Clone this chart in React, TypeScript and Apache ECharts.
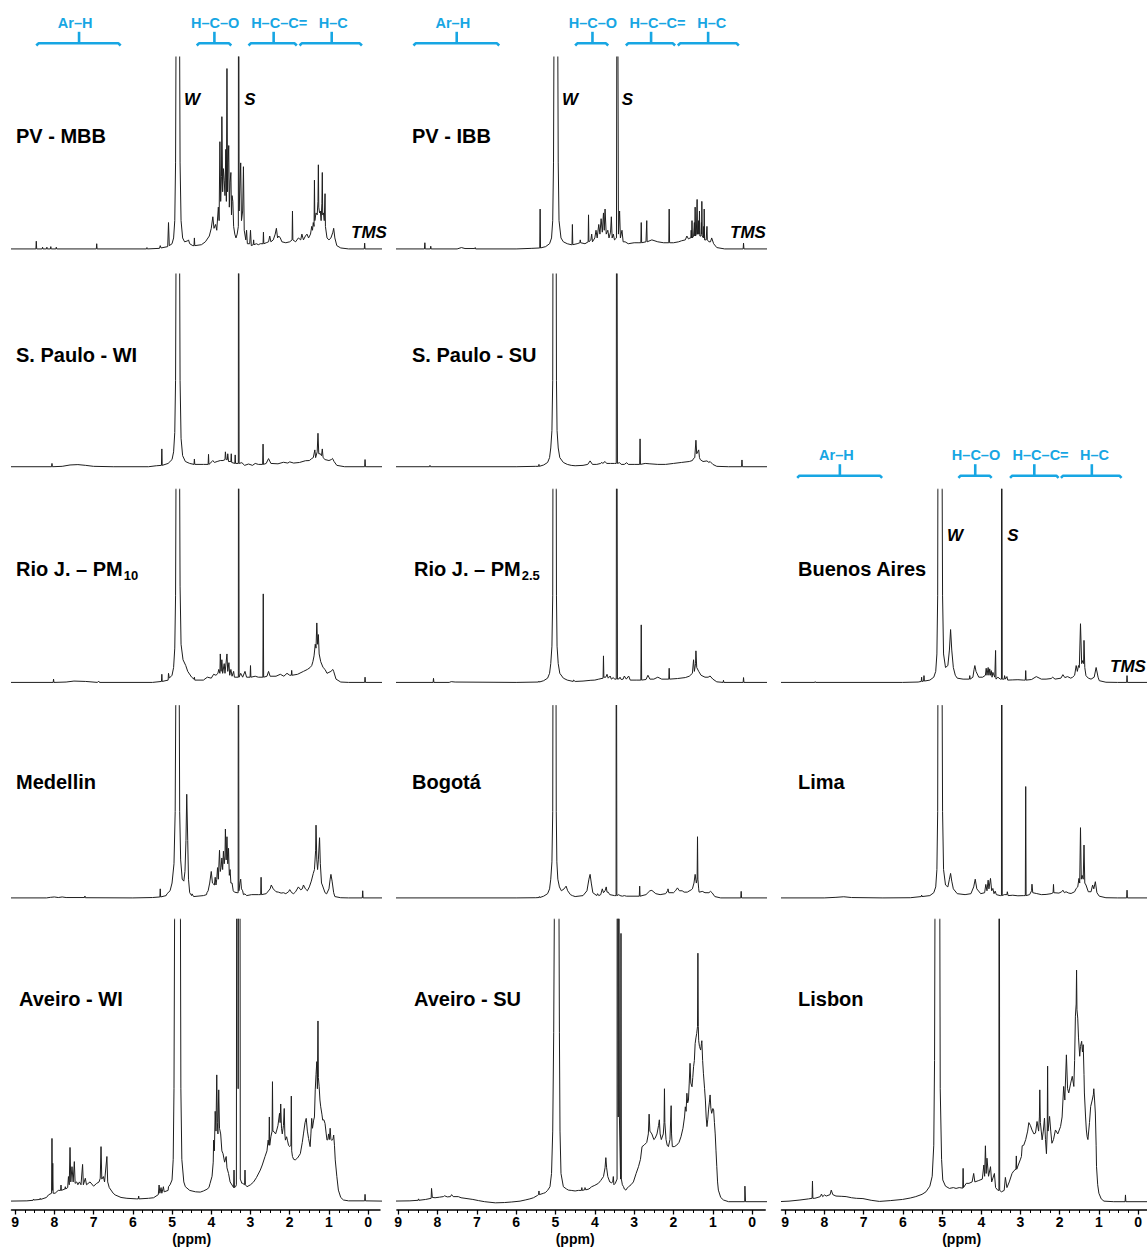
import React, { useEffect, useRef } from "react";
import * as echarts from "echarts";

// ---------- spectra: flat lists [ppm, intensity (% of panel height), ...] ----------
const pvMbb = [9.2,0.3, 8.47,0.3, 8.46,4.3, 8.45,0.3, 8.31,0.3, 8.3,1.2, 8.29,0.3, 8.2,0.3, 8.19,1.2, 8.18,0.3, 8.1,0.3, 8.09,1.5, 8.08,0.3, 7.96,0.3, 7.95,1.2, 7.94,0.3, 6.93,0.3, 6.92,3, 6.91,0.3, 5.65,0.3, 5.64,1, 5.63,0.3, 5.32,0.6, 5.3,2, 5.28,0.8, 5.11,1.5, 5.09,14, 5.07,2, 5.0,3, 4.96,6, 4.93,15, 4.91,45, 4.9,100, 4.895,250, 4.81,250, 4.805,100, 4.795,45, 4.77,15, 4.73,6, 4.68,4, 4.6,4.5, 4.58,5, 4.55,3, 4.47,2, 4.44,2, 4.43,6, 4.42,2, 4.25,2.5, 4.15,4, 4.05,7, 4.0,11, 3.96,17, 3.93,11, 3.89,13, 3.86,10, 3.82,22, 3.8,15, 3.78,56, 3.76,25, 3.74,38, 3.73,69, 3.71,30, 3.69,42, 3.67,36, 3.65,28, 3.63,52, 3.615,25, 3.6,94, 3.585,30, 3.57,45, 3.555,54, 3.54,22, 3.52,35, 3.5,40, 3.485,18, 3.47,28, 3.45,25, 3.43,12, 3.4,8, 3.37,6, 3.34,8, 3.31,12, 3.305,250, 3.295,250, 3.29,20, 3.25,45, 3.23,15, 3.2,20, 3.18,43, 3.16,10, 3.12,5, 3.1,10, 3.08,3, 3.02,3, 3.0,10, 2.98,2, 2.93,2.5, 2.92,5, 2.91,2.5, 2.85,3, 2.8,2.5, 2.75,3, 2.68,3, 2.67,9, 2.66,3, 2.6,3.5, 2.54,4, 2.51,7, 2.48,4, 2.42,5, 2.37,8, 2.34,11, 2.31,6, 2.28,7, 2.24,6, 2.2,4, 2.1,3.5, 2.0,4, 1.94,5, 1.93,20, 1.92,5, 1.85,4, 1.78,6, 1.72,5, 1.69,8, 1.65,5, 1.6,7, 1.56,8, 1.52,6, 1.47,8, 1.44,12, 1.42,10, 1.4,14, 1.38,12, 1.37,36, 1.36,15, 1.33,19, 1.3,18, 1.28,25, 1.27,44, 1.26,22, 1.24,19, 1.22,20, 1.2,15, 1.18,24, 1.17,40, 1.16,18, 1.14,19, 1.12,15, 1.1,29, 1.09,12, 1.05,6, 1.0,5, 0.95,6, 0.9,9, 0.88,11, 0.85,6, 0.8,2, 0.7,0.8, 0.5,0.3, 0.1,0.3, 0.09,3.3, 0.08,0.3, -0.4,0.3];

const pvIbb = [9.2,0.3, 8.33,0.3, 8.32,3.5, 8.31,0.3, 8.18,0.3, 8.17,1.7, 8.16,0.3, 7.5,0.3, 7.39,1, 7.3,0.5, 7.05,0.5, 7.04,1, 7.03,0.3, 6.0,0.3, 5.6,0.6, 5.4,0.8, 5.39,21, 5.38,0.8, 5.25,1.5, 5.15,3, 5.1,6, 5.07,15, 5.05,45, 5.04,100, 5.035,250, 4.945,250, 4.94,100, 4.93,45, 4.91,15, 4.86,6, 4.8,4, 4.7,3, 4.6,2.5, 4.58,2.5, 4.57,13, 4.56,2.5, 4.45,3, 4.38,3.5, 4.37,5, 4.36,3.5, 4.25,3, 4.17,4, 4.16,18, 4.15,4, 4.1,5, 4.08,8, 4.06,4, 4.0,6, 3.97,10, 3.94,6, 3.9,13, 3.87,8, 3.84,16, 3.81,9, 3.78,19, 3.76,10, 3.74,21, 3.71,8, 3.67,10, 3.64,6, 3.6,9, 3.58,17, 3.56,6, 3.53,8, 3.5,5, 3.45,6, 3.43,250, 3.415,250, 3.4,8, 3.37,20, 3.35,6, 3.31,10, 3.28,4, 3.23,4, 3.15,3, 3.0,3.5, 2.9,3.5, 2.83,3.5, 2.82,14, 2.81,3.5, 2.7,4, 2.68,15, 2.67,4, 2.55,5, 2.4,4, 2.25,3.5, 2.12,3.5, 2.11,21, 2.1,3.5, 2.0,3.5, 1.87,4, 1.8,4.5, 1.7,5, 1.66,7, 1.62,5.5, 1.58,6, 1.56,6, 1.55,10, 1.54,6, 1.53,15, 1.52,6, 1.49,7, 1.47,14, 1.46,7, 1.45,22, 1.44,7, 1.42,8, 1.41,8, 1.4,26, 1.39,8, 1.37,8, 1.36,15, 1.35,8, 1.34,20, 1.33,7, 1.3,7, 1.29,14, 1.285,8, 1.28,25, 1.27,7, 1.24,6, 1.23,12, 1.225,6, 1.22,21, 1.21,5, 1.17,5, 1.15,12, 1.14,5, 1.1,4, 1.06,4, 1.03,6, 0.98,3, 0.9,1, 0.7,0.3, 0.23,0.3, 0.22,3.3, 0.21,0.3, -0.4,0.3];

const sPauloWi = [9.2,0.3, 8.07,0.3, 8.06,2, 8.05,0.3, 7.8,0.5, 7.6,1.2, 7.4,1.4, 7.2,1, 7.0,0.5, 6.5,0.3, 5.6,0.3, 5.4,0.8, 5.27,1, 5.26,9.5, 5.25,1, 5.1,2, 5.0,4, 4.96,8, 4.93,18, 4.91,45, 4.9,100, 4.895,250, 4.81,250, 4.805,100, 4.795,45, 4.77,15, 4.73,6, 4.66,3, 4.55,2, 4.44,1.5, 4.43,4.3, 4.42,1.5, 4.2,1.5, 4.08,1.5, 4.07,6.7, 4.06,1.5, 3.98,3, 3.96,3.5, 3.92,2.5, 3.85,3, 3.77,3.5, 3.7,3.5, 3.65,4, 3.64,8, 3.62,4, 3.59,4, 3.58,7, 3.56,3, 3.5,3, 3.49,7, 3.48,2.5, 3.4,2, 3.39,6.4, 3.38,2, 3.31,2, 3.305,250, 3.295,250, 3.29,2, 3.22,2.4, 3.15,1, 3.05,1.7, 2.95,1, 2.88,2, 2.8,1.5, 2.69,1.5, 2.68,12, 2.67,1.5, 2.6,2, 2.54,4.5, 2.48,2, 2.3,1.8, 2.16,2.6, 2.05,2.2, 2.0,2.8, 1.9,2.2, 1.75,2.5, 1.6,3.4, 1.5,3.5, 1.44,4.5, 1.4,5, 1.36,9, 1.34,5, 1.3,8, 1.28,17.6, 1.26,7, 1.22,7, 1.19,6, 1.17,9.5, 1.15,5, 1.1,4, 1.0,3.5, 0.94,4, 0.91,4.6, 0.87,3, 0.8,1, 0.6,0.3, 0.09,0.3, 0.08,4, 0.07,0.3, -0.4,0.3];

const sPauloSu = [9.2,0.3, 8.2,0.3, 8.19,1, 8.18,0.3, 6.0,0.3, 5.5,0.5, 5.43,0.5, 5.42,1.5, 5.41,0.5, 5.3,1.2, 5.2,2.5, 5.15,5, 5.12,10, 5.09,19, 5.07,45, 5.065,100, 5.06,250, 4.985,250, 4.98,100, 4.975,45, 4.96,19, 4.93,10, 4.89,5, 4.8,2.5, 4.7,1.5, 4.6,1, 4.5,0.8, 4.3,1, 4.18,1.5, 4.12,3.3, 4.06,1.5, 3.95,1.5, 3.85,2, 3.82,2.6, 3.8,2, 3.74,3, 3.7,2, 3.6,2, 3.5,2, 3.455,2, 3.445,250, 3.435,250, 3.425,2, 3.37,2.4, 3.33,1.5, 3.25,1.5, 3.19,2.4, 3.15,1.5, 3.0,1.5, 2.86,1.5, 2.85,14.7, 2.84,1.5, 2.72,2, 2.6,1.8, 2.4,1.5, 2.2,1.5, 2.0,2, 1.8,2.5, 1.6,3, 1.52,3.5, 1.49,4.6, 1.46,5, 1.43,14, 1.41,7, 1.36,9, 1.34,5, 1.32,4, 1.25,3, 1.15,3.3, 1.1,2.5, 1.07,3, 1.0,1.5, 0.9,0.5, 0.6,0.3, 0.27,0.3, 0.26,3.8, 0.25,0.3, -0.4,0.3];

const rioPm10 = [9.2,0.3, 8.03,0.3, 8.02,2, 8.01,0.3, 7.7,0.5, 7.5,1, 7.2,0.8, 6.9,0.3, 6.87,1, 6.85,0.3, 5.5,0.3, 5.27,0.8, 5.26,4.5, 5.25,0.8, 5.1,1.5, 5.09,5, 5.07,2.5, 5.0,4, 4.96,8, 4.93,18, 4.91,45, 4.9,100, 4.895,250, 4.81,250, 4.805,100, 4.795,50, 4.77,20, 4.72,12, 4.65,9, 4.6,6, 4.5,3, 4.44,2, 4.43,3, 4.42,1.5, 4.2,1.5, 4.1,3, 4.0,2.5, 3.94,4.5, 3.88,4, 3.83,5, 3.81,7, 3.78,5, 3.77,15, 3.75,6, 3.73,12, 3.71,5, 3.67,10, 3.65,5, 3.6,15, 3.58,6, 3.55,10.5, 3.53,4, 3.5,7, 3.47,3.5, 3.43,6, 3.41,3, 3.31,3, 3.305,250, 3.295,250, 3.29,3, 3.25,5, 3.2,3, 3.14,6, 3.1,3, 3.01,3, 3.0,9, 2.99,3, 2.88,3.5, 2.8,3, 2.685,3, 2.675,46, 2.665,3, 2.58,3.5, 2.54,6, 2.5,3.5, 2.35,3.5, 2.24,4.5, 2.15,3.5, 2.07,5, 2.0,4, 1.96,4, 1.95,6.5, 1.94,4, 1.8,4.5, 1.65,6, 1.55,7, 1.48,8, 1.44,9, 1.41,11, 1.38,14, 1.35,20, 1.33,18, 1.31,31, 1.29,20, 1.27,25, 1.25,15, 1.21,11, 1.15,8, 1.1,7, 1.05,5, 1.0,5.5, 0.95,6, 0.9,7, 0.88,6, 0.82,2, 0.7,0.5, 0.5,0.3, 0.09,0.3, 0.08,3, 0.07,0.3, -0.4,0.3];

const rioPm25 = [9.2,0.3, 8.11,0.3, 8.1,2.4, 8.09,0.3, 7.7,0.3, 7.65,0.7, 7.55,0.5, 6.0,0.3, 5.43,0.5, 5.42,1, 5.41,0.5, 5.3,1.2, 5.2,2.5, 5.15,5, 5.12,10, 5.09,19, 5.07,45, 5.065,100, 5.06,250, 4.985,250, 4.98,100, 4.975,45, 4.96,19, 4.93,10, 4.89,5, 4.8,2.5, 4.7,1.5, 4.55,0.8, 4.54,1.5, 4.5,0.8, 4.3,1, 4.1,1.4, 4.0,1.5, 3.9,2, 3.79,2.5, 3.78,14, 3.77,3, 3.72,3, 3.69,4.5, 3.66,2.5, 3.61,3.6, 3.58,2, 3.53,2.8, 3.5,2, 3.455,2, 3.445,250, 3.435,250, 3.425,2, 3.38,2.2, 3.36,3, 3.33,1.8, 3.28,2, 3.25,3.6, 3.2,2, 3.14,3.6, 3.1,1.5, 2.95,1.5, 2.83,1.5, 2.82,30, 2.81,1.5, 2.7,1.8, 2.65,4, 2.6,2, 2.5,2, 2.4,3, 2.3,2, 2.12,2, 2.11,7.6, 2.1,2, 1.9,2.3, 1.7,2.8, 1.6,3.5, 1.52,5, 1.49,12, 1.47,6, 1.44,10, 1.43,16.6, 1.41,8, 1.36,6, 1.3,4, 1.2,3, 1.12,3, 1.07,3.6, 1.0,2, 0.9,0.6, 0.74,0.3, 0.73,1.4, 0.72,0.3, 0.23,0.3, 0.22,2.8, 0.21,0.3, -0.4,0.3];

const buenosAires = [9.2,0.3, 8.24,0.3, 8.23,0.7, 8.22,0.3, 6.0,0.3, 5.6,0.5, 5.52,0.8, 5.51,3, 5.5,0.8, 5.46,1, 5.45,3.8, 5.44,1, 5.3,1.5, 5.2,3, 5.15,6, 5.12,15, 5.1,45, 5.095,100, 5.09,250, 4.99,250, 4.985,100, 4.975,45, 4.95,15, 4.9,8, 4.84,9, 4.8,17, 4.77,27.6, 4.74,17, 4.7,8, 4.65,4, 4.6,2.5, 4.45,2, 4.29,2, 4.28,3.8, 4.27,2, 4.2,3, 4.17,7, 4.15,9, 4.12,6, 4.05,3, 3.95,3, 3.88,4, 3.86,7.6, 3.84,4, 3.81,8, 3.79,4, 3.77,7.3, 3.75,4, 3.73,6.4, 3.71,3, 3.69,5.5, 3.64,3, 3.62,16.8, 3.61,2, 3.56,3, 3.5,2, 3.47,2, 3.465,250, 3.455,250, 3.45,2, 3.4,2, 3.39,3.8, 3.37,2, 3.33,3.3, 3.31,1.5, 3.18,1.6, 3.05,1.7, 2.9,1.5, 2.86,1.5, 2.85,6.4, 2.84,1.5, 2.7,1.8, 2.58,3.3, 2.45,2, 2.33,2, 2.2,2.3, 2.16,3, 2.1,2, 1.95,2.5, 1.9,4.3, 1.85,2.8, 1.78,3.3, 1.7,2.5, 1.65,3, 1.6,4, 1.56,9, 1.53,6, 1.5,9, 1.48,8, 1.45,30.6, 1.42,10, 1.39,11.6, 1.37,10, 1.36,22, 1.34,8, 1.31,3.8, 1.25,2.5, 1.18,2, 1.1,3, 1.05,8, 1.0,3, 0.97,1.2, 0.8,0.4, 0.5,0.3, 0.27,0.3, 0.26,3.8, 0.25,0.3, -0.4,0.3];

const medellin = [9.2,0.3, 8.2,0.3, 8.1,0.6, 8.0,0.8, 7.9,0.5, 7.8,0.8, 7.7,0.5, 7.23,0.5, 7.22,1.3, 7.21,0.4, 6.0,0.3, 5.5,0.5, 5.31,0.8, 5.3,5, 5.29,0.8, 5.15,1.5, 5.13,2.4, 5.05,4, 5.0,8, 4.95,18, 4.92,45, 4.905,100, 4.9,250, 4.82,250, 4.815,100, 4.805,45, 4.78,20, 4.74,10, 4.7,9, 4.67,14, 4.645,30, 4.625,54, 4.6,30, 4.58,10, 4.55,3, 4.5,1.5, 4.49,2.4, 4.45,1, 4.2,1.5, 4.12,2, 4.11,3, 4.08,4, 4.04,8, 4.0,14, 3.97,8, 3.92,7, 3.9,11, 3.88,7, 3.86,10, 3.84,16, 3.82,10, 3.79,25, 3.77,14, 3.75,16, 3.73,21, 3.71,15, 3.69,24.5, 3.67,18, 3.65,22, 3.64,36, 3.62,20, 3.6,32, 3.58,18, 3.56,26, 3.54,12, 3.52,15, 3.5,8, 3.47,8, 3.44,4, 3.41,3.3, 3.34,3, 3.315,3, 3.31,250, 3.3,250, 3.295,4, 3.27,8, 3.25,10, 3.23,5, 3.2,4, 3.18,2, 3.14,2.4, 3.1,1.5, 2.97,2, 2.8,2, 2.74,2, 2.73,11, 2.72,2, 2.6,2.5, 2.5,5, 2.47,7, 2.42,5, 2.35,3.5, 2.29,3.3, 2.22,2.8, 2.16,3, 2.1,2.5, 2.03,3.5, 2.0,4.6, 1.95,3, 1.9,2.5, 1.85,3.5, 1.78,6, 1.72,4.5, 1.68,5, 1.65,7, 1.6,5, 1.55,4, 1.5,6, 1.45,9, 1.4,13, 1.37,15, 1.34,25, 1.33,38, 1.31,20, 1.29,15, 1.27,20, 1.24,31.5, 1.22,18, 1.19,8, 1.17,7, 1.1,3, 1.06,2.4, 1.0,5, 0.97,10, 0.95,12.5, 0.92,9, 0.88,3, 0.85,1, 0.7,0.4, 0.5,0.3, 0.15,0.3, 0.14,4, 0.13,0.3, -0.4,0.3];

const bogota = [9.2,0.3, 6.0,0.3, 5.5,0.4, 5.42,0.5, 5.41,1, 5.4,0.5, 5.3,1.2, 5.2,2.5, 5.15,5, 5.12,10, 5.09,19, 5.07,45, 5.065,100, 5.06,250, 4.99,250, 4.985,100, 4.98,45, 4.965,19, 4.94,10, 4.9,6, 4.85,4, 4.78,5, 4.73,6.4, 4.69,4, 4.62,2, 4.57,1.5, 4.5,1, 4.3,1.5, 4.2,4, 4.15,10, 4.12,12.5, 4.09,8, 4.05,3, 3.95,1.5, 3.93,2.5, 3.9,1.5, 3.85,2, 3.81,5, 3.78,3, 3.74,4, 3.71,6, 3.69,3.3, 3.66,3.3, 3.62,2, 3.5,1.5, 3.46,1.5, 3.455,250, 3.445,250, 3.44,1.5, 3.39,2, 3.36,1.5, 3.3,1.2, 3.25,1.5, 3.2,1.2, 2.87,1.2, 2.86,6.4, 2.85,1.2, 2.7,2, 2.6,4, 2.55,4.2, 2.45,2.5, 2.34,2, 2.2,2.5, 2.15,4, 2.14,5, 2.12,3, 2.0,3, 1.95,4, 1.9,5.5, 1.85,4, 1.78,4, 1.73,3.3, 1.65,3.3, 1.55,4.5, 1.52,5, 1.48,8, 1.45,12.5, 1.42,8, 1.4,10, 1.39,32, 1.38,10, 1.36,5, 1.35,3.3, 1.3,3.5, 1.27,3.7, 1.2,3, 1.1,3, 1.06,3.7, 1.02,3, 0.95,1, 0.8,0.3, 0.29,0.3, 0.28,3.7, 0.27,0.3, -0.4,0.3];

const lima = [9.2,0.3, 8.0,0.3, 7.7,0.6, 7.5,0.9, 7.3,0.5, 6.5,0.3, 5.8,0.4, 5.52,1, 5.51,1.8, 5.5,1, 5.3,1.5, 5.2,3, 5.15,6, 5.12,15, 5.1,45, 5.095,100, 5.09,250, 4.99,250, 4.985,100, 4.975,45, 4.95,15, 4.9,7, 4.84,6, 4.8,10, 4.77,13, 4.74,9, 4.7,5, 4.6,2.5, 4.4,2, 4.25,2.5, 4.18,6, 4.14,10, 4.1,5, 4.0,2.5, 3.9,3, 3.87,7.3, 3.84,4, 3.81,9.5, 3.79,5, 3.75,10.4, 3.72,4, 3.69,5.2, 3.66,2.5, 3.63,3.8, 3.6,2, 3.5,1.5, 3.47,1.5, 3.465,250, 3.455,250, 3.45,1.5, 3.4,2, 3.33,2, 3.32,3.5, 3.3,1.5, 3.18,1.7, 3.05,1.4, 2.9,1.5, 2.86,1.5, 2.85,58, 2.84,1.5, 2.75,2, 2.7,4, 2.69,7.4, 2.67,3, 2.58,2.6, 2.45,2, 2.33,2.1, 2.2,2.5, 2.15,3, 2.14,7.3, 2.13,3, 2.0,2.8, 1.93,3.5, 1.9,4.3, 1.86,3, 1.82,3.5, 1.75,2.8, 1.69,2.6, 1.6,3.5, 1.56,5.2, 1.52,6, 1.49,10.4, 1.47,8, 1.45,36.7, 1.43,10, 1.41,12, 1.38,10, 1.36,27.7, 1.34,8, 1.31,7, 1.25,3.5, 1.18,3.5, 1.14,7, 1.11,5, 1.07,8.7, 1.03,3, 0.97,1.2, 0.8,0.4, 0.5,0.3, 0.27,0.3, 0.26,4.3, 0.25,0.3, -0.4,0.3];

const aveiroWi = [9.2,0.2, 8.7,0.3, 8.54,0.5, 8.53,0.9, 8.52,0.6, 8.37,0.8, 8.36,1.2, 8.35,0.8, 8.2,1.5, 8.15,2.4, 8.07,3, 8.06,22.4, 8.05,4, 8.04,13.6, 8.03,3, 7.98,3, 7.9,4, 7.84,4, 7.83,5.9, 7.82,4, 7.73,4.5, 7.72,5.3, 7.71,4.5, 7.66,5, 7.64,8.9, 7.62,6, 7.6,19.2, 7.58,7, 7.55,12.4, 7.52,7, 7.49,14.2, 7.47,6.5, 7.43,7, 7.4,6, 7.36,7, 7.32,6, 7.28,13.2, 7.26,6, 7.21,8.3, 7.18,6, 7.09,7, 7.0,5.5, 6.92,6.5, 6.86,7, 6.83,8.3, 6.81,19.5, 6.79,8, 6.75,8.9, 6.72,7, 6.66,16, 6.64,7, 6.6,5, 6.5,3, 6.45,2.4, 6.3,1.5, 6.15,1.2, 5.9,1, 5.86,1, 5.85,2, 5.84,1, 5.6,1.2, 5.47,1.4, 5.35,2.5, 5.33,5.9, 5.31,3, 5.28,5, 5.26,3, 5.22,5.3, 5.2,3.5, 5.1,4, 5.09,5.3, 5.05,6, 5.0,7.7, 4.97,15, 4.95,40, 4.935,100, 4.93,250, 4.79,250, 4.785,100, 4.775,40, 4.75,15, 4.7,7, 4.66,5.3, 4.55,4, 4.49,3.8, 4.4,3.5, 4.28,3.4, 4.2,3.8, 4.11,4.4, 4.06,5, 4.03,6.5, 3.98,9, 3.95,14, 3.94,21.8, 3.92,18, 3.9,32, 3.88,25, 3.86,44.9, 3.845,28, 3.83,24, 3.81,39.6, 3.79,26, 3.76,24, 3.73,18, 3.7,17, 3.66,14, 3.62,16, 3.6,12, 3.56,10, 3.52,7, 3.47,5.9, 3.43,5, 3.42,11.2, 3.41,5, 3.38,5.3, 3.36,6, 3.345,250, 3.325,250, 3.315,40, 3.3,250, 3.275,250, 3.26,8, 3.22,6.5, 3.2,6.5, 3.15,6, 3.14,11.2, 3.13,6, 3.09,5.3, 3.0,6, 2.92,7, 2.85,8.5, 2.75,11.2, 2.7,13, 2.63,16, 2.58,18, 2.55,21.8, 2.53,20, 2.52,30, 2.51,20, 2.48,23, 2.45,25, 2.44,42.5, 2.43,25, 2.4,24.8, 2.36,24, 2.33,25.4, 2.3,27, 2.26,31.3, 2.245,28, 2.23,34.6, 2.21,26, 2.19,24, 2.16,27, 2.14,33, 2.125,24, 2.11,21.8, 2.08,23, 2.06,21.8, 2.03,20, 2.0,19.5, 1.97,20, 1.96,37.4, 1.95,18, 1.93,16, 1.9,15, 1.86,14.8, 1.8,15.5, 1.73,17, 1.68,21, 1.65,24, 1.61,28, 1.58,29.5, 1.55,25, 1.52,22.4, 1.48,19.5, 1.46,24, 1.44,29.5, 1.42,26, 1.39,28.9, 1.37,30, 1.35,39.6, 1.33,45, 1.31,49.6, 1.295,40, 1.28,64, 1.27,44, 1.25,40.7, 1.23,36, 1.21,33.6, 1.18,31, 1.16,28.9, 1.13,29, 1.1,27.7, 1.07,24, 1.05,21.8, 1.03,22, 1.01,24, 0.99,22, 0.97,26, 0.95,22, 0.93,21.8, 0.9,22, 0.88,23.6, 0.86,20, 0.84,14.8, 0.8,9, 0.76,4.1, 0.7,1.5, 0.63,0.6, 0.5,0.3, 0.09,0.3, 0.08,2.6, 0.07,0.3, -0.4,0.2];

const aveiroSu = [9.2,0.2, 8.7,0.3, 8.49,0.5, 8.48,1, 8.47,0.5, 8.3,0.8, 8.16,1.2, 8.15,4.7, 8.14,4.7, 8.13,1.5, 8.06,1.4, 7.95,1.6, 7.85,1.8, 7.82,2.1, 7.75,1.7, 7.67,1.8, 7.64,2.5, 7.6,1.8, 7.47,1.8, 7.4,1.4, 7.3,1.2, 7.1,0.8, 6.96,0.4, 6.8,0, 6.53,-0.4, 6.3,-0.3, 6.11,-0.1, 5.9,0.2, 5.77,0.6, 5.65,1, 5.56,1.4, 5.46,2.2, 5.43,2.5, 5.42,3.8, 5.41,2.5, 5.3,3, 5.26,3.2, 5.2,4, 5.14,5.3, 5.1,10, 5.07,25, 5.045,60, 5.03,100, 5.025,250, 4.915,250, 4.91,100, 4.9,60, 4.885,25, 4.86,10, 4.8,5.3, 4.72,4.5, 4.67,4.1, 4.6,4, 4.5,3.8, 4.42,4, 4.34,4, 4.33,5, 4.32,4, 4.26,4.2, 4.25,5, 4.23,4.2, 4.15,4.5, 4.08,5.3, 4.0,5.8, 3.91,6.5, 3.85,7.5, 3.78,8.9, 3.74,12, 3.72,15.6, 3.7,12, 3.67,8.9, 3.62,7, 3.57,6.7, 3.545,7, 3.53,8.9, 3.515,6, 3.48,6.5, 3.435,8, 3.43,250, 3.415,250, 3.405,30, 3.395,250, 3.385,250, 3.375,30, 3.345,8, 3.335,95, 3.325,8, 3.3,6, 3.27,5.3, 3.25,4.5, 3.21,4.1, 3.18,4.8, 3.14,5.3, 3.08,6, 3.02,7, 2.95,10, 2.89,12.4, 2.84,15, 2.8,19.5, 2.75,20, 2.68,21, 2.64,24, 2.62,31, 2.6,25, 2.55,24, 2.5,22, 2.47,22.4, 2.42,24, 2.38,27, 2.36,29, 2.34,24, 2.31,22, 2.26,24, 2.24,28, 2.23,40, 2.22,28, 2.19,22, 2.16,20, 2.13,19.5, 2.09,22, 2.07,30, 2.06,34, 2.05,24, 2.03,19.5, 1.98,19.5, 1.92,20, 1.86,21, 1.81,23, 1.76,26, 1.72,30, 1.7,33.6, 1.68,32, 1.66,38.4, 1.64,35, 1.62,36, 1.6,42, 1.58,49, 1.56,42, 1.53,40.7, 1.51,44, 1.49,47.8, 1.47,50, 1.45,56, 1.43,58, 1.41,59.6, 1.39,62, 1.38,88, 1.37,62, 1.36,57, 1.34,55, 1.31,53.7, 1.29,56, 1.28,57, 1.26,50, 1.24,45.5, 1.21,40, 1.19,36, 1.17,30, 1.15,26.6, 1.13,29, 1.11,32.5, 1.09,35, 1.07,37.8, 1.05,33, 1.03,31.3, 1.0,33, 0.98,32.5, 0.96,28, 0.94,24, 0.92,18, 0.9,12.4, 0.88,7, 0.86,4.1, 0.8,1.5, 0.73,0.6, 0.6,0, 0.19,0, 0.185,5.5, 0.175,5.5, 0.17,0, -0.4,0];

const lisbon = [9.2,0, 8.9,0.2, 8.62,0.6, 8.4,1, 8.31,1.2, 8.3,7.3, 8.29,1.2, 8.24,1.2, 8.1,1.8, 8.07,2.7, 8.04,1.8, 7.99,2.4, 7.95,2, 7.85,2.5, 7.82,4.1, 7.78,2.5, 7.7,2, 7.55,1.9, 7.44,1.8, 7.3,1.4, 7.18,1.2, 7.01,1.1, 6.8,0.5, 6.59,0.1, 6.3,0.4, 6.0,0.8, 5.8,1.3, 5.66,1.8, 5.5,2.6, 5.4,3.5, 5.3,5.5, 5.24,9, 5.2,20, 5.18,50, 5.17,100, 5.165,250, 5.05,250, 5.045,100, 5.035,40, 5.0,15, 4.97,7.7, 4.9,5.5, 4.8,4.7, 4.7,5, 4.63,4.7, 4.55,5, 4.46,4.8, 4.45,11.8, 4.44,5, 4.37,6.5, 4.3,6.5, 4.22,7, 4.18,10, 4.15,7, 4.05,7.5, 3.96,8, 3.92,13, 3.9,9, 3.88,19.8, 3.86,10, 3.84,15.4, 3.8,9, 3.75,12.4, 3.72,7, 3.65,10, 3.62,5, 3.56,4, 3.535,4, 3.53,250, 3.52,250, 3.515,4, 3.47,3.5, 3.4,4, 3.37,8.6, 3.33,5, 3.27,7, 3.2,10, 3.15,11, 3.1,11.5, 3.09,16.2, 3.08,11.5, 3.04,13, 2.99,14.8, 2.96,16, 2.94,19.8, 2.9,20, 2.85,22, 2.8,25, 2.77,28, 2.73,27, 2.69,25.4, 2.64,24, 2.6,24.3, 2.56,28.4, 2.52,25, 2.5,30, 2.49,39.6, 2.475,28, 2.43,21.9, 2.4,25, 2.37,29.6, 2.345,22, 2.32,17, 2.3,25, 2.29,48, 2.28,25, 2.24,30.2, 2.21,25, 2.18,20.7, 2.14,22, 2.09,25.4, 2.03,24, 1.96,26.6, 1.92,30, 1.88,40.8, 1.85,36, 1.81,52, 1.78,40, 1.75,38.5, 1.7,42, 1.66,44.4, 1.62,40.8, 1.6,50, 1.58,65.7, 1.56,70, 1.55,82, 1.54,68, 1.52,65, 1.5,58, 1.47,51.5, 1.45,55, 1.42,56.8, 1.4,53, 1.38,55.6, 1.36,45, 1.35,38.5, 1.32,30, 1.3,25.4, 1.28,23, 1.26,22, 1.22,28, 1.19,33.7, 1.15,36, 1.12,38, 1.11,40, 1.09,36, 1.07,31.4, 1.05,20, 1.04,12.4, 1.01,6, 0.98,3, 0.92,1, 0.85,0.2, 0.6,0, 0.31,0, 0.3,2.4, 0.29,0, -0.4,0];

// ---------- annotations: [start ppm, end ppm, tick ppm, text-centre ppm] ----------
const annLabels = ["Ar–H", "H–C–O", "H–C–C=", "H–C"];
const annCol1 = [[8.46, 6.31, 7.37, 7.47], [4.37, 3.49, 3.92, 3.9], [3.05, 1.82, 2.41, 2.27], [1.75, 0.16, 0.93, 0.89]];
const annCol2 = [[8.61, 6.43, 7.51, 7.61], [4.5, 3.66, 4.06, 4.05], [3.21, 1.96, 2.57, 2.41], [1.89, 0.34, 1.12, 1.03]];
const annCol3 = [[8.69, 6.52, 7.6, 7.69], [4.57, 3.72, 4.14, 4.12], [3.25, 2.01, 2.63, 2.47], [1.95, 0.4, 1.16, 1.09]];

// ---------- x axis ticks (ppm) ----------
const PPM_TICK_MIN = 0;
const PPM_TICK_MAX = 9;
const PPM_TICK_STEP = 1;

// ---------- layout ----------
const FONT = "'Liberation Sans', Arial, Helvetica, sans-serif";
const LINE = "#1e1e1e";
const BLUE = "#17a6e3";
const Y_PAD = 3;
const AXIS_Y = 1210;

const COLS = [
  { x9: 15.1, x0: 368.2, pMax: 9.09, pMin: -0.3 },
  { x9: 398.1, x0: 752.2, pMax: 9.03, pMin: -0.33 },
  { x9: 785.1, x0: 1138.2, pMax: 9.09, pMin: -0.25 },
];
const ROWS = [
  { top: 57, base: 249.5 },
  { top: 274, base: 467.3 },
  { top: 489.3, base: 683 },
  { top: 705.5, base: 898.5 },
  { top: 919.3, base: 1201.7 },
];

const panels: { label: string; sub?: string; col: number; row: number; data: number[]; lx: number; ly: number }[] = [
  { label: "PV - MBB", col: 0, row: 0, data: pvMbb, lx: 16, ly: 136 },
  { label: "PV - IBB", col: 1, row: 0, data: pvIbb, lx: 412, ly: 136 },
  { label: "S. Paulo - WI", col: 0, row: 1, data: sPauloWi, lx: 16, ly: 355 },
  { label: "S. Paulo - SU", col: 1, row: 1, data: sPauloSu, lx: 412, ly: 355 },
  { label: "Rio J. – PM", sub: "10", col: 0, row: 2, data: rioPm10, lx: 16, ly: 570 },
  { label: "Rio J. – PM", sub: "2.5", col: 1, row: 2, data: rioPm25, lx: 414, ly: 570 },
  { label: "Buenos Aires", col: 2, row: 2, data: buenosAires, lx: 798, ly: 569 },
  { label: "Medellin", col: 0, row: 3, data: medellin, lx: 16, ly: 782 },
  { label: "Bogotá", col: 1, row: 3, data: bogota, lx: 412, ly: 782 },
  { label: "Lima", col: 2, row: 3, data: lima, lx: 798, ly: 782 },
  { label: "Aveiro - WI", col: 0, row: 4, data: aveiroWi, lx: 19, ly: 999 },
  { label: "Aveiro - SU", col: 1, row: 4, data: aveiroSu, lx: 414, ly: 999 },
  { label: "Lisbon", col: 2, row: 4, data: lisbon, lx: 798, ly: 999 },
];

const annotations = [
  { col: 0, lineY: 43.3, data: annCol1 },
  { col: 1, lineY: 43.3, data: annCol2 },
  { col: 2, lineY: 475.7, data: annCol3 },
];

const peakTags = [
  { text: "W", x: 192, y: 99 }, { text: "S", x: 250, y: 99 }, { text: "TMS", x: 369, y: 232 },
  { text: "W", x: 570, y: 99 }, { text: "S", x: 627.5, y: 99 }, { text: "TMS", x: 748, y: 232 },
  { text: "W", x: 955, y: 535 }, { text: "S", x: 1013, y: 535 }, { text: "TMS", x: 1128, y: 666 },
];

const pairs = (a: number[]) => {
  const out: number[][] = [];
  for (let i = 0; i < a.length; i += 2) out.push([a[i], a[i + 1]]);
  return out;
};

function colGeom(c: { x9: number; x0: number; pMax: number; pMin: number }) {
  const k = (c.x0 - c.x9) / 9;
  return { k, left: c.x9 - (c.pMax - 9) * k, width: (c.pMax - c.pMin) * k };
}

function buildOption() {
  const grid: any[] = [];
  const xAxis: any[] = [];
  const yAxis: any[] = [];
  const series: any[] = [];
  const graphic: any[] = [];
  const addGrid = (g: any, xa: any, ya: any) => {
    grid.push({ ...g, containLabel: false });
    const i = grid.length - 1;
    xAxis.push({ ...xa, gridIndex: i });
    yAxis.push({ ...ya, gridIndex: i });
    return i;
  };

  panels.forEach((p) => {
    const c = COLS[p.col];
    const r = ROWS[p.row];
    const g = colGeom(c);
    const h = r.base - r.top;
    const idx = addGrid(
      { left: g.left, top: r.top, width: g.width, height: (h * (100 + Y_PAD)) / 100 },
      { type: "value", min: c.pMin, max: c.pMax, inverse: true, show: false },
      { type: "value", min: -Y_PAD, max: 100, show: false }
    );
    series.push({
      type: "line",
      xAxisIndex: idx,
      yAxisIndex: idx,
      data: pairs(p.data),
      showSymbol: false,
      symbol: "none",
      silent: true,
      clip: true,
      lineStyle: { color: LINE, width: 1 },
    });
    const text = p.sub ? `{a|${p.label}}{s|${p.sub}}` : p.label;
    graphic.push({
      type: "text",
      x: p.lx,
      y: p.ly,
      silent: true,
      style: {
        text,
        fill: "#000",
        font: `bold 20px ${FONT}`,
        verticalAlign: "middle",
        rich: p.sub
          ? {
              a: { fontSize: 20, fontWeight: "bold", fontFamily: FONT, fill: "#000", lineHeight: 22, verticalAlign: "top" },
              s: { fontSize: 13, fontWeight: "bold", fontFamily: FONT, fill: "#000", lineHeight: 13, padding: [10, 0, 0, 1], verticalAlign: "top" },
            }
          : undefined,
      },
    });
  });

  annotations.forEach((a) => {
    const c = COLS[a.col];
    const g = colGeom(c);
    const idx = addGrid(
      { left: g.left, width: g.width, top: a.lineY - 40, height: 40 },
      { type: "value", min: c.pMin, max: c.pMax, inverse: true, show: false },
      { type: "value", min: 0, max: 1, show: false }
    );
    series.push({
      type: "custom",
      xAxisIndex: idx,
      yAxisIndex: idx,
      silent: true,
      clip: false,
      data: a.data,
      renderItem: (params: any, api: any) => {
        const cs = params.coordSys;
        const y = cs.y + cs.height;
        const x1 = api.coord([api.value(0), 0])[0];
        const x2 = api.coord([api.value(1), 0])[0];
        const xt = api.coord([api.value(2), 0])[0];
        const xl = api.coord([api.value(3), 0])[0];
        return {
          type: "group",
          children: [
            {
              type: "polyline",
              shape: { points: [[x1, y + 2.2], [x1 + 2.2, y], [x2 - 2.2, y], [x2, y + 2.2]] },
              style: { stroke: BLUE, lineWidth: 2.6, fill: null, lineJoin: "round" },
            },
            { type: "line", shape: { x1: xt, y1: y, x2: xt, y2: y - 11.5 }, style: { stroke: BLUE, lineWidth: 2.6 } },
            {
              type: "text",
              x: xl,
              y: y - 20.8,
              style: { text: annLabels[params.dataIndex], fill: BLUE, font: `bold 14.5px ${FONT}`, align: "center", verticalAlign: "middle" },
            },
          ],
        };
      },
    });
  });

  COLS.forEach((c) => {
    const g = colGeom(c);
    addGrid(
      { left: g.left, width: g.width, top: AXIS_Y - 10, height: 10 },
      {
        type: "value", min: c.pMin, max: c.pMax, inverse: true,
        axisLine: { show: true, onZero: false, lineStyle: { color: "#000", width: 1.6 } },
        axisTick: { show: false }, axisLabel: { show: false }, splitLine: { show: false },
      },
      { type: "value", min: 0, max: 1, show: false }
    );
    addGrid(
      { left: c.x9, width: c.x0 - c.x9, top: AXIS_Y - 10, height: 10 },
      {
        type: "value", min: PPM_TICK_MIN, max: PPM_TICK_MAX, interval: PPM_TICK_STEP, inverse: true,
        axisLine: { show: false, onZero: false },
        axisTick: { show: true, length: 4.5, lineStyle: { color: "#000", width: 1.3 } },
        minorTick: { show: true, splitNumber: 4, length: 3, lineStyle: { color: "#000", width: 1 } },
        axisLabel: { color: "#000", fontWeight: "bold", fontSize: 14, fontFamily: FONT, margin: 5 },
        splitLine: { show: false },
        name: "(ppm)", nameLocation: "middle", nameGap: 22,
        nameTextStyle: { color: "#000", fontWeight: "bold", fontSize: 14, fontFamily: FONT },
      },
      { type: "value", min: 0, max: 1, show: false }
    );
  });

  peakTags.forEach((t) => {
    graphic.push({
      type: "text",
      x: t.x,
      y: t.y,
      silent: true,
      style: { text: t.text, fill: "#000", font: `italic bold 17px ${FONT}`, align: "center", verticalAlign: "middle" },
    });
  });

  return {
    animation: false,
    backgroundColor: "#ffffff",
    grid,
    xAxis,
    yAxis,
    series,
    graphic,
  };
}

export default function App() {
  const ref = useRef<HTMLDivElement | null>(null);
  useEffect(() => {
    if (!ref.current) return;
    const chart = echarts.init(ref.current, undefined, { renderer: "svg" });
    chart.setOption(buildOption() as any);
    return () => chart.dispose();
  }, []);
  return (
    <div
      ref={ref}
      style={{ position: "absolute", left: 0, top: 0, width: 1147, height: 1248, background: "#fff" }}
    />
  );
}
